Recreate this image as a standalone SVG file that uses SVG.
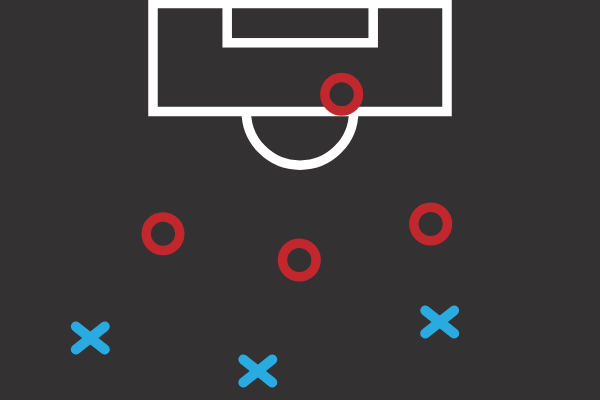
<svg xmlns="http://www.w3.org/2000/svg" width="600" height="400" viewBox="0 0 600 400">
<style>
.line{fill:none;stroke:#ffffff;stroke-width:9.5}
.o{fill:none;stroke:#c1272d;stroke-width:9.5}
.x{stroke:#29abe2;stroke-width:10;stroke-linecap:round}
</style>
<defs>
<g id="xm"><line class="x" x1="-14.5" y1="-11.5" x2="14.5" y2="11.5"/><line class="x" x1="-14.5" y1="11.5" x2="14.5" y2="-11.5"/></g>
</defs>
<rect width="600" height="400" fill="#333132"/>
<g id="pitch">
<path class="line" d="M246.3,111.5 A53.7,53.7 0 0 0 353.7,111.5"/>
<rect class="line" x="153" y="3.5" width="294" height="108"/>
<rect class="line" x="227.2" y="-10" width="146" height="52.8"/>
</g>
<g id="circles">
<circle class="o" cx="341.7" cy="94.3" r="16.8"/>
<circle class="o" cx="163" cy="233.7" r="16.8"/>
<circle class="o" cx="299.3" cy="260" r="16.8"/>
<circle class="o" cx="430.7" cy="224" r="16.8"/>
</g>
<g id="crosses">
<use href="#xm" x="90.3" y="338"/>
<use href="#xm" x="439.7" y="322"/>
<use href="#xm" x="257.8" y="371"/>
</g>
</svg>
